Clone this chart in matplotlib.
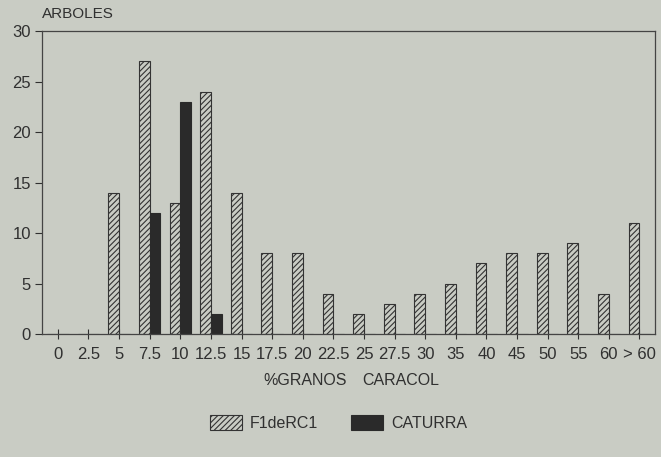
import matplotlib.pyplot as plt
import numpy as np

categorias = ["0", "2.5", "5", "7.5", "10", "12.5", "15", "17.5", "20", "22.5",
              "25", "27.5", "30", "35", "40", "45", "50", "55", "60", "> 60"]
f1derc1 = [0, 0, 14, 27, 13, 24, 14, 8, 8, 4, 2, 3, 4, 5, 7, 8, 8, 9, 4, 11]
caturra = [0, 0, 0, 12, 23, 2, 0, 0, 0, 0, 0, 0, 0, 0, 0, 0, 0, 0, 0, 0]

plt.rcParams['font.family'] = ['Liberation Sans', 'DejaVu Sans']
plt.rcParams['hatch.linewidth'] = 0.8

fondo = "#c9ccc4"
tinta = "#303030"
fig = plt.figure(figsize=(6.61, 4.57), dpi=100, facecolor=fondo)
ax = fig.add_axes([0.0635, 0.269, 0.927, 0.663])
ax.set_facecolor(fondo)

x = np.arange(len(categorias))
w = 0.35
ax.bar(x - w, f1derc1, width=w, align="edge", color=fondo, edgecolor="#333333",
       hatch="//////", linewidth=0.8, label="F1deRC1")
ax.bar(x, caturra, width=w, align="edge", color="#2a2a2a", edgecolor="#2a2a2a",
       linewidth=0.8, label="CATURRA")

ax.set_xlim(-0.52, 19.5)
ax.set_ylim(0, 30)
ax.set_yticks(range(0, 31, 5))
ax.set_xticks(x)
ax.set_xticklabels(categorias)
ax.tick_params(axis="x", direction="inout", length=7, width=0.8, labelsize=12,
               colors=tinta, pad=6)
ax.tick_params(axis="y", direction="out", length=5, width=0.8, labelsize=12,
               colors=tinta, pad=3)
for s in ax.spines.values():
    s.set_color("#444444")
    s.set_linewidth(0.9)

fig.text(0.064, 0.955, "ARBOLES", fontsize=11, color=tinta, ha="left", va="bottom")
fig.text(0.398, 0.168, "%GRANOS", fontsize=11.5, color=tinta, ha="left", va="center")
fig.text(0.548, 0.168, "CARACOL", fontsize=11.5, color=tinta, ha="left", va="center")

fig.legend(loc="center", bbox_to_anchor=(0.512, 0.075), ncol=2, frameon=False,
           fontsize=11.5, handlelength=2.0, handleheight=1.1, handletextpad=0.5,
           columnspacing=2.1, labelcolor=tinta)

plt.savefig("out.png", dpi=100, facecolor=fondo)
